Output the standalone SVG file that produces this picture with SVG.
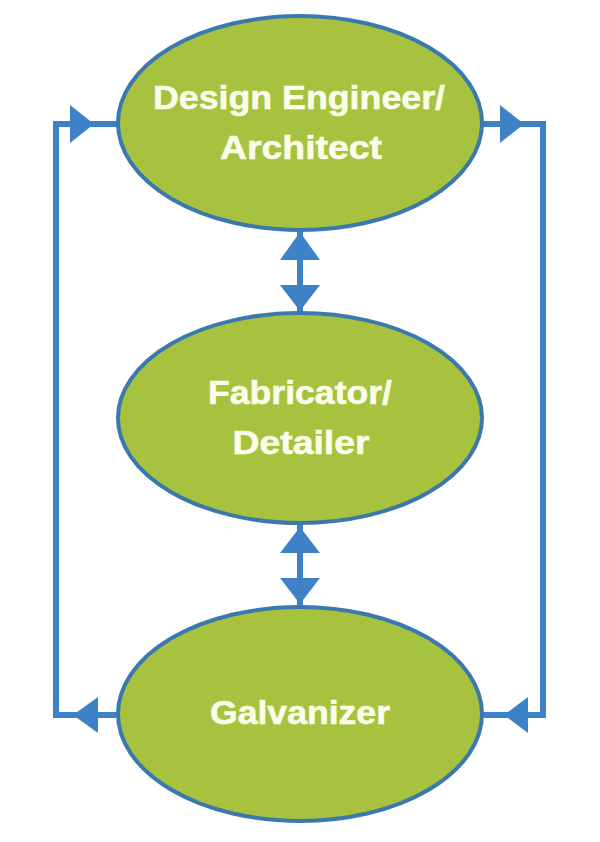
<svg xmlns="http://www.w3.org/2000/svg" width="600" height="842" viewBox="0 0 600 842">
<style>
.node{fill:#a6c23f;stroke:#3b78ad;stroke-width:4}
.lbl{font-family:"Liberation Sans",Arial,sans-serif;font-weight:bold;font-size:34px;fill:#fbfde8;stroke:#fbfde8;stroke-width:0.6;text-anchor:middle}
.con{fill:none;stroke:#3d82c6;stroke-width:6}
.head{fill:#3d82c6}
</style>
<rect width="600" height="842" fill="#ffffff"/>
<g id="connectors">
<path class="con" d="M118,124 H56 V715 H118"/>
<path class="con" d="M483,124 H543 V715 H482"/>
<path class="con" d="M300,232 V312"/>
<path class="con" d="M300,525 V605"/>
<polygon class="head" points="70,105 94,124 70,143"/>
<polygon class="head" points="98,697 73,715 98,733"/>
<polygon class="head" points="500,105 524,124 500,143"/>
<polygon class="head" points="528,697 504,715 528,733"/>
<polygon class="head" points="300,232 320,260 280,260"/>
<polygon class="head" points="280,285 320,285 300,311"/>
<polygon class="head" points="300,527 320,553 280,553"/>
<polygon class="head" points="280,578 320,578 300,604"/>
</g>
<g id="node-design">
<ellipse class="node" cx="300" cy="123" rx="182" ry="107"/>
<text class="lbl" x="299" y="109" textLength="292" lengthAdjust="spacingAndGlyphs">Design Engineer/</text>
<text class="lbl" x="301" y="159" textLength="162" lengthAdjust="spacingAndGlyphs">Architect</text>
</g>
<g id="node-fabricator">
<ellipse class="node" cx="300" cy="418" rx="182" ry="105"/>
<text class="lbl" x="300" y="404" textLength="184" lengthAdjust="spacingAndGlyphs">Fabricator/</text>
<text class="lbl" x="301" y="454" textLength="137" lengthAdjust="spacingAndGlyphs">Detailer</text>
</g>
<g id="node-galvanizer">
<ellipse class="node" cx="300" cy="714" rx="182" ry="107"/>
<text class="lbl" x="300" y="724" textLength="180" lengthAdjust="spacingAndGlyphs">Galvanizer</text>
</g>
</svg>
